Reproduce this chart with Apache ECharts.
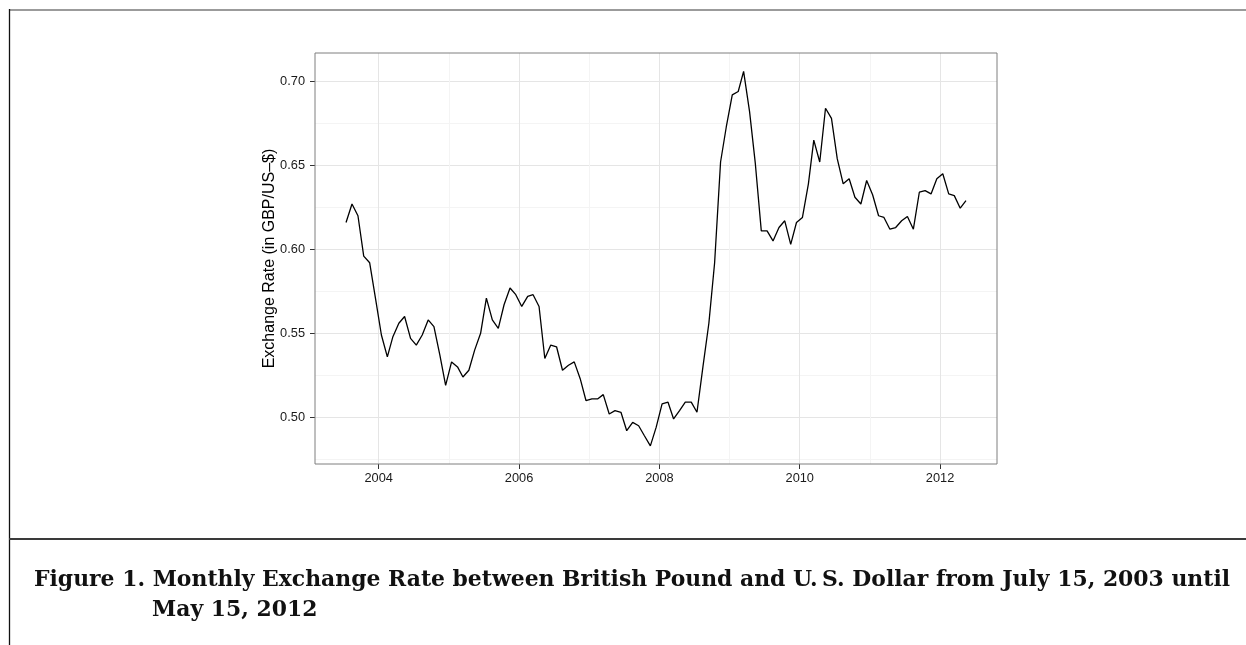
<!DOCTYPE html>
<html>
<head>
<meta charset="utf-8">
<script src="https://cdn.jsdelivr.net/npm/echarts@6/dist/echarts.min.js"></script>
<style>
html,body{margin:0;padding:0;background:#fff;}
#chart{width:1246px;height:645px;}
</style>
</head>
<body>
<div id="chart"></div>
<script>
// Monthly observations, 15th of each month, starting July 2003
const startYear = 2003;
const startMonth = 7;
// GBP per US$
const rates = [
  0.616, 0.627, 0.620, 0.596, 0.592, 0.571,
  0.549, 0.536, 0.548, 0.556, 0.560, 0.547, 0.543, 0.549, 0.558, 0.554, 0.537, 0.519,
  0.533, 0.530, 0.524, 0.528, 0.540, 0.550, 0.571, 0.558, 0.553, 0.567, 0.577, 0.573,
  0.566, 0.572, 0.573, 0.566, 0.535, 0.543, 0.542, 0.528, 0.531, 0.533, 0.523, 0.510,
  0.511, 0.511, 0.5135, 0.502, 0.504, 0.503, 0.492, 0.497, 0.495, 0.489, 0.483, 0.494,
  0.508, 0.509, 0.499, 0.504, 0.509, 0.509, 0.503, 0.530, 0.556, 0.592, 0.652, 0.673,
  0.692, 0.694, 0.706, 0.682, 0.651, 0.611, 0.611, 0.605, 0.613, 0.617, 0.603, 0.616,
  0.619, 0.639, 0.665, 0.652, 0.684, 0.678, 0.654, 0.639, 0.642, 0.631, 0.627, 0.641,
  0.6325, 0.620, 0.619, 0.612, 0.613, 0.617, 0.6196, 0.612, 0.634, 0.635, 0.633, 0.642,
  0.645, 0.633, 0.632, 0.6245, 0.629
];
const xTicks = [2004, 2006, 2008, 2010, 2012];
const xMinor = [2005, 2007, 2009, 2011];
const yTicks = [0.50, 0.55, 0.60, 0.65, 0.70];
const yMinor = [0.475, 0.525, 0.575, 0.625, 0.675];
const yTitle = 'Exchange Rate (in GBP/US\u2013$)';
const captionLine1 = 'Figure 1. Monthly Exchange Rate between British Pound and U.\u2009S. Dollar from July 15, 2003 until';
const captionLine2 = 'May 15, 2012';

function decimalYear(y, m, d) {
  const t = Date.UTC(y, m - 1, d);
  const t0 = Date.UTC(y, 0, 1);
  const t1 = Date.UTC(y + 1, 0, 1);
  return y + (t - t0) / (t1 - t0);
}
const points = rates.map((v, i) => {
  const mi = startMonth - 1 + i;
  const y = startYear + Math.floor(mi / 12);
  const m = (mi % 12) + 1;
  return [decimalYear(y, m, 15), v];
});
const xMin = 2003.092, xMax = 2012.811;
const yMin = 0.4722, yMax = 0.7169;

const chart = echarts.init(document.getElementById('chart'), null, {renderer: 'canvas'});
const labelFont = {fontFamily: 'Liberation Sans', fontSize: 12.8, color: '#1a1a1a'};
chart.setOption({
  animation: false,
  backgroundColor: '#fff',
  grid: [{left: 315, right: 249, top: 53, bottom: 181, show: true, borderColor: '#7f7f7f', borderWidth: 1, backgroundColor: 'transparent', z: 5, outerBoundsMode: 'none', containLabel: false}],
  xAxis: [
    {type: 'value', min: xMin, max: xMax, gridIndex: 0,
      axisLine: {show: false},
      axisTick: {show: true, length: 5, lineStyle: {color: '#333', width: 1}, customValues: xTicks},
      axisLabel: {show: true, margin: 8, customValues: xTicks, formatter: v => String(Math.round(v)), ...labelFont},
      splitLine: {show: true, lineStyle: {color: '#e5e5e5', width: 1}}
    },
    {type: 'value', min: xMin, max: xMax, gridIndex: 0, position: 'bottom',
      axisLine: {show: false},
      axisTick: {show: false, customValues: xMinor},
      axisLabel: {show: false, customValues: xMinor},
      splitLine: {show: true, lineStyle: {color: '#f4f4f4', width: 1}}
    }
  ],
  yAxis: [
    {type: 'value', min: yMin, max: yMax, gridIndex: 0,
      name: yTitle, nameLocation: 'middle', nameRotate: 90, nameGap: 37, nameMoveOverlap: false,
      nameTextStyle: {fontFamily: 'Liberation Sans', fontSize: 16, color: '#000'},
      axisLine: {show: false},
      axisTick: {show: true, length: 5, lineStyle: {color: '#333', width: 1}, customValues: yTicks},
      axisLabel: {show: true, margin: 10, customValues: yTicks, formatter: v => v.toFixed(2), ...labelFont},
      splitLine: {show: true, lineStyle: {color: '#e5e5e5', width: 1}}
    },
    {type: 'value', min: yMin, max: yMax, gridIndex: 0, position: 'left',
      axisLine: {show: false},
      axisTick: {show: false, customValues: yMinor},
      axisLabel: {show: false, customValues: yMinor},
      splitLine: {show: true, lineStyle: {color: '#f4f4f4', width: 1}}
    }
  ],
  series: [{
    type: 'line', xAxisIndex: 0, yAxisIndex: 0, data: points,
    showSymbol: false, symbol: 'none', smooth: false, z: 10,
    lineStyle: {color: '#000', width: 1.3}
  }],
  graphic: [
    {type: 'line', shape: {x1: 9, y1: 10, x2: 1246, y2: 10}, style: {stroke: '#7a7a7a', lineWidth: 1.7}, silent: true},
    {type: 'line', shape: {x1: 9.5, y1: 9, x2: 9.5, y2: 645}, style: {stroke: '#111', lineWidth: 1.3}, silent: true},
    {type: 'line', shape: {x1: 9, y1: 539, x2: 1246, y2: 539}, style: {stroke: '#3a3a3a', lineWidth: 2}, silent: true},
    {type: 'text', left: 34, top: 569, style: {text: captionLine1, font: 'bold 21.9px "DejaVu Serif"', fill: '#111'}, silent: true},
    {type: 'text', left: 152, top: 599, style: {text: captionLine2, font: 'bold 21.9px "DejaVu Serif"', fill: '#111'}, silent: true}
  ]
});
</script>
</body>
</html>
